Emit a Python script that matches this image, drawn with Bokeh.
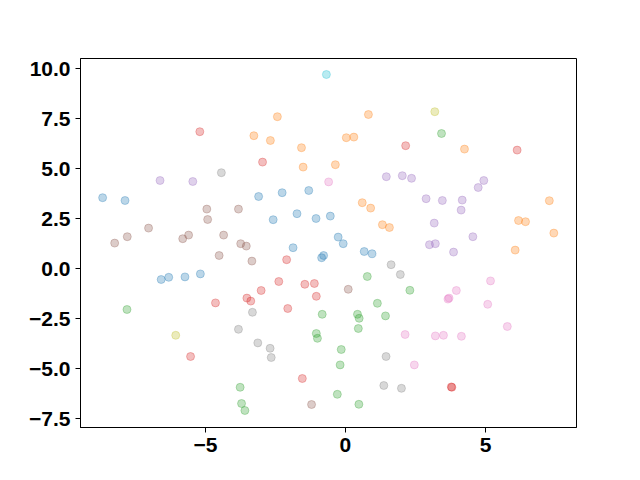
from bokeh.plotting import figure
from bokeh.models import Range1d, FixedTicker, CustomJSTickFormatter
from bokeh.embed import file_html
from bokeh.resources import INLINE

# ---- data ----
blue_x = [-8.67, -7.87, -6.58, -6.31, -5.73, -5.18, -3.10, -2.26, -1.31, -1.73,
          -2.58, -1.05, -0.54, -0.26, -0.08, -1.87, -0.78, -0.85, 0.67, 0.95]
blue_y = [3.54, 3.40, -0.55, -0.44, -0.42, -0.27, 3.60, 3.79, 3.90, 2.74,
          2.44, 2.50, 2.62, 1.57, 1.24, 1.04, 0.65, 0.54, 0.85, 0.74]

orange_x = [-3.27, -2.43, 0.82, -2.68, -1.57, 0.03, 0.30, -1.51, -0.36, 4.25,
            0.60, 0.90, 1.32, 1.57, 7.28, 6.18, 6.43, 7.44, 6.06]
orange_y = [6.64, 7.59, 7.70, 6.40, 6.04, 6.54, 6.57, 5.07, 5.19, 5.97,
            3.29, 3.02, 2.19, 2.05, 3.39, 2.40, 2.34, 1.77, 0.92]

green_x = [-7.80, 3.43, 0.78, 2.30, 1.14, -3.76, -3.71, -3.59, -0.83, 0.43,
           0.49, 0.46, 1.43, -1.04, -1.00, -0.15, -0.19, -0.29, 0.48]
green_y = [-2.05, 6.75, -0.40, -1.09, -1.74, -5.94, -6.75, -7.10, -2.29, -2.29,
           -2.49, -3.00, -2.37, -3.25, -3.49, -4.05, -4.82, -6.29, -6.79]

red_x = [-5.20, -2.96, 2.15, 6.13, -4.64, -3.52, -3.38, -2.10, -2.38, -3.01,
         -1.45, -1.11, -1.04, -2.06, -5.53, -1.54, 3.80, 3.78]
red_y = [6.84, 5.32, 6.14, 5.92, -1.72, -1.48, -1.63, 0.44, -0.65, -1.10,
         -0.79, -0.75, -1.39, -2.00, -4.40, -5.50, -5.94, -5.92]

purple_x = [-6.62, -5.45, 1.46, 2.03, 2.36, 4.94, 4.74, 2.88, 3.46, 4.17,
            4.13, 3.17, 4.55, 3.00, 3.21, 3.86]
purple_y = [4.40, 4.35, 4.59, 4.64, 4.51, 4.40, 4.05, 3.49, 3.40, 3.42,
            2.92, 2.27, 1.59, 1.19, 1.24, 0.82]

brown_x = [-4.95, -3.82, -4.92, -7.03, -7.79, -8.24, -5.81, -5.60, -4.35, -3.74,
           -3.54, -4.51, -3.34, 0.10, -1.21]
brown_y = [2.97, 2.97, 2.45, 2.02, 1.59, 1.27, 1.49, 1.67, 1.67, 1.24,
           1.12, 0.65, 0.37, -1.04, -6.80]

pink_x = [-0.60, 5.18, 3.96, 3.70, 3.66, 5.08, 5.78, 3.21, 3.50, 4.14, 2.46, 2.13]
pink_y = [4.33, -0.62, -1.10, -1.48, -1.53, -1.79, -2.90, -3.37, -3.34, -3.39, -4.82, -3.30]

gray_x = [-4.43, 1.63, 1.96, -3.82, -3.32, -3.13, -2.69, -2.65, 1.45, 1.37, 2.00]
gray_y = [4.79, 0.19, -0.30, -3.04, -2.19, -3.72, -3.99, -4.45, -4.40, -5.85, -5.99]

olive_x = [3.19, -6.06]
olive_y = [7.84, -3.34]

cyan_x = [-0.68]
cyan_y = [9.70]

x_ticks = [-5, 0, 5]
y_ticks = [-7.5, -5.0, -2.5, 0.0, 2.5, 5.0, 7.5, 10.0]

series = [
    (blue_x, blue_y, "#1f77b4"),
    (orange_x, orange_y, "#ff7f0e"),
    (green_x, green_y, "#2ca02c"),
    (red_x, red_y, "#d62728"),
    (purple_x, purple_y, "#9467bd"),
    (brown_x, brown_y, "#8c564b"),
    (pink_x, pink_y, "#e377c2"),
    (gray_x, gray_y, "#7f7f7f"),
    (olive_x, olive_y, "#bcbd22"),
    (cyan_x, cyan_y, "#17becf"),
]

p = figure(
    output_backend="svg", toolbar_location=None,
    frame_width=496, frame_height=369,
    min_border_left=80, min_border_right=48,
    min_border_top=58, min_border_bottom=37,
    x_range=Range1d(-9.46, 8.25), y_range=Range1d(-7.95, 10.5),
)
p.width = 624
p.height = 464

for xs, ys, c in series:
    p.scatter(xs, ys, size=8, fill_color=c, line_color=c,
              fill_alpha=0.3, line_alpha=0.3, line_width=1)

p.xgrid.visible = False
p.ygrid.visible = False
p.outline_line_color = "black"
p.outline_line_width = 1
p.background_fill_color = "white"
p.border_fill_color = "white"

p.xaxis.ticker = FixedTicker(ticks=x_ticks)
p.yaxis.ticker = FixedTicker(ticks=y_ticks)
p.xaxis.formatter = CustomJSTickFormatter(code="return (tick < 0 ? '\u2212' : '') + Math.abs(tick).toFixed(0);")
p.yaxis.formatter = CustomJSTickFormatter(code="return (tick < 0 ? '\u2212' : '') + Math.abs(tick).toFixed(1);")

for ax in (p.xaxis, p.yaxis):
    ax.axis_line_color = "black"
    ax.axis_line_width = 1
    ax.major_tick_line_color = "black"
    ax.major_tick_line_width = 1
    ax.major_tick_out = 5
    ax.major_tick_in = 0
    ax.minor_tick_line_color = None
    ax.major_label_text_font = "Liberation Sans"
    ax.major_label_text_font_style = "bold"
    ax.major_label_text_font_size = "21px"
    ax.major_label_text_color = "black"
    ax.major_label_standoff = 5

open("out.html", "w").write(file_html(p, INLINE))
